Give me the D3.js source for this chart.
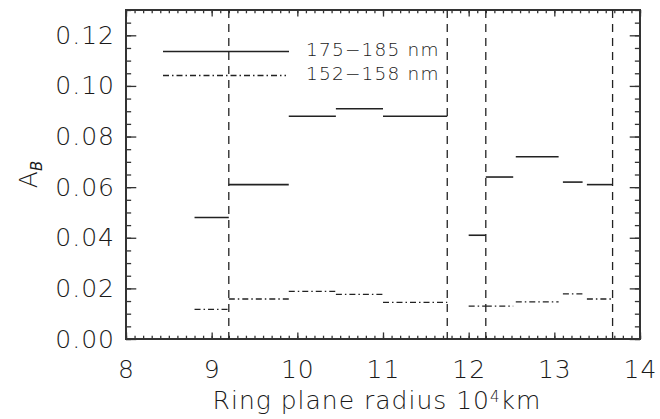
<!DOCTYPE html>
<html>
<head>
<meta charset="utf-8">
<style>
  body { margin: 0; background: #fff; }
  svg text { font-family: "DejaVu Sans", sans-serif; font-weight: 200; fill: #1a1a1a; }
</style>
</head>
<body>
<div id="chart"></div>
<script src="https://d3js.org/d3.v7.min.js"></script>
<script>
// bin edges (10^4 km) and albedo values
var binStart = [8.8, 9.2, 9.9, 10.45, 11.0, 12.0, 12.2, 12.55, 13.1, 13.38];
var binEnd   = [9.2, 9.9, 10.45, 11.0, 11.75, 12.2, 12.52, 13.05, 13.33, 13.68];
var ab175 = [0.048, 0.061, 0.088, 0.091, 0.088, 0.041, 0.064, 0.072, 0.062, 0.061];
var ab152 = [0.0117, 0.0158, 0.0188, 0.0176, 0.0145, 0.013, 0.013, 0.0147, 0.0178, 0.0158];
var ringEdges = [9.2, 11.75, 12.2, 13.68];
var seriesNames = ["175\u2212185 nm", "152\u2212158 nm"];
var xTicks = [8, 9, 10, 11, 12, 13, 14];
var yTicks = [0, 0.02, 0.04, 0.06, 0.08, 0.10, 0.12];

var width = 660, height = 419;
var margin = {top: 10, right: 20, bottom: 80, left: 126};
var innerW = width - margin.left - margin.right,   // 514
    innerH = height - margin.top - margin.bottom;  // 329

var svg = d3.select("#chart").append("svg")
    .attr("width", width)
    .attr("height", height);

var x = d3.scaleLinear().domain([8, 14]).range([margin.left, margin.left + innerW]);
var y = d3.scaleLinear().domain([0, 0.13]).range([margin.top + innerH, margin.top]);

// IDL-style tick lengths: 2% of the plot size, minor ones half
var xMajor = 0.02 * innerH, yMajor = 0.02 * innerW;
var xMinorVals = d3.range(80, 141).map(function(d) { return d / 10; });
var yMinorVals = d3.range(0, 27).map(function(d) { return d * 0.005; });

function styleAxis(g) {
  g.select(".domain").remove();
  g.selectAll("line").attr("stroke", "#333").attr("stroke-width", 1.3);
  g.attr("font-family", null).attr("font-size", null);
}

// bottom
svg.append("g").attr("transform", "translate(0," + y(0) + ")")
  .call(d3.axisBottom(x).tickValues(xMinorVals).tickSizeInner(-xMajor / 2).tickSizeOuter(0).tickFormat(""))
  .call(styleAxis);
svg.append("g").attr("transform", "translate(0," + y(0) + ")")
  .call(d3.axisBottom(x).tickValues(xTicks).tickSizeInner(-xMajor).tickSizeOuter(0).tickPadding(21).tickFormat(d3.format("d")))
  .call(styleAxis)
  .selectAll("text").style("font-size", "25px").style("letter-spacing", "1px");
// top
svg.append("g").attr("transform", "translate(0," + y(0.13) + ")")
  .call(d3.axisTop(x).tickValues(xMinorVals).tickSizeInner(-xMajor / 2).tickSizeOuter(0).tickFormat(""))
  .call(styleAxis);
svg.append("g").attr("transform", "translate(0," + y(0.13) + ")")
  .call(d3.axisTop(x).tickValues(xTicks).tickSizeInner(-xMajor).tickSizeOuter(0).tickFormat(""))
  .call(styleAxis);
// left
svg.append("g").attr("transform", "translate(" + x(8) + ",0)")
  .call(d3.axisLeft(y).tickValues(yMinorVals).tickSizeInner(-yMajor / 2).tickSizeOuter(0).tickFormat(""))
  .call(styleAxis);
svg.append("g").attr("transform", "translate(" + x(8) + ",0)")
  .call(d3.axisLeft(y).tickValues(yTicks).tickSizeInner(-yMajor).tickSizeOuter(0).tickPadding(11).tickFormat(d3.format(".2f")))
  .call(styleAxis)
  .selectAll("text").style("font-size", "25px").style("letter-spacing", "1px");
// right
svg.append("g").attr("transform", "translate(" + x(14) + ",0)")
  .call(d3.axisRight(y).tickValues(yMinorVals).tickSizeInner(-yMajor / 2).tickSizeOuter(0).tickFormat(""))
  .call(styleAxis);
svg.append("g").attr("transform", "translate(" + x(14) + ",0)")
  .call(d3.axisRight(y).tickValues(yTicks).tickSizeInner(-yMajor).tickSizeOuter(0).tickFormat(""))
  .call(styleAxis);

// frame
svg.append("rect")
  .attr("x", x(8)).attr("y", y(0.13))
  .attr("width", x(14) - x(8)).attr("height", y(0) - y(0.13))
  .attr("fill", "none").attr("stroke", "#333").attr("stroke-width", 2);

// ring boundaries
svg.selectAll(".edge").data(ringEdges).enter().append("line")
  .attr("class", "edge")
  .attr("x1", function(d) { return x(d); }).attr("x2", function(d) { return x(d); })
  .attr("y1", y(0.13)).attr("y2", y(0))
  .attr("stroke", "#222").attr("stroke-width", 1.3)
  .attr("stroke-dasharray", "8,6");

var dashDot = "6,3,1.5,3";

// albedo bins
svg.selectAll(".s175").data(ab175).enter().append("line")
  .attr("class", "s175")
  .attr("x1", function(d, i) { return x(binStart[i]); })
  .attr("x2", function(d, i) { return x(binEnd[i]); })
  .attr("y1", function(d) { return y(d); }).attr("y2", function(d) { return y(d); })
  .attr("stroke", "#222").attr("stroke-width", 1.6);

svg.selectAll(".s152").data(ab152).enter().append("line")
  .attr("class", "s152")
  .attr("x1", function(d, i) { return x(binStart[i]); })
  .attr("x2", function(d, i) { return x(binEnd[i]); })
  .attr("y1", function(d) { return y(d); }).attr("y2", function(d) { return y(d); })
  .attr("stroke", "#222").attr("stroke-width", 1.3)
  .attr("stroke-dasharray", dashDot);

// legend
var legend = svg.append("g");
seriesNames.forEach(function(name, i) {
  var ly = 51.5 + i * 24;
  legend.append("line")
    .attr("x1", 163).attr("x2", i ? 286 : 289)
    .attr("y1", ly).attr("y2", ly)
    .attr("stroke", "#222").attr("stroke-width", i ? 1.3 : 1.6)
    .attr("stroke-dasharray", i ? dashDot : null);
  legend.append("text")
    .attr("x", 306).attr("y", ly + 4.5)
    .style("font-size", "18.5px").style("letter-spacing", "1.2px")
    .text(name);
});

// axis titles
var xt = svg.append("text")
  .attr("x", 377).attr("y", 409)
  .attr("text-anchor", "middle")
  .style("font-size", "25px").style("letter-spacing", "1px");
xt.append("tspan").text("Ring plane radius 10");
xt.append("tspan").attr("dy", "-0.45em").style("font-size", "15px").text("4");
xt.append("tspan").attr("dy", "0.27em").text("km");

var yt = svg.append("text")
  .attr("transform", "translate(37," + ((y(0) + y(0.13)) / 2) + ") rotate(-90)")
  .attr("text-anchor", "middle")
  .style("font-size", "25px");
yt.append("tspan").text("A");
yt.append("tspan").attr("dy", "0.3em").style("font-size", "15px").style("font-style", "italic").text("B");
</script>
</body>
</html>
